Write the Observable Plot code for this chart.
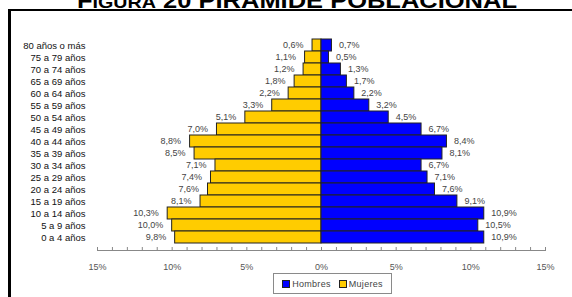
<!DOCTYPE html>
<html>
<head>
<meta charset="utf-8">
<script src="https://cdn.jsdelivr.net/npm/d3@7"></script>
<script src="https://cdn.jsdelivr.net/npm/@observablehq/plot@0.6"></script>
<style>
  html, body { margin: 0; padding: 0; background: #fff; }
  #wrap { position: relative; width: 572px; height: 297px; overflow: hidden; font-family: "Liberation Sans", Arial, sans-serif; }
  #frame { position: absolute; left: 8px; top: 9px; width: 700px; height: 400px; border-left: 3px solid #000; border-top: 2px solid #000; box-sizing: border-box; }
  #title { position: absolute; left: 0; top: 0; }
  #chart { position: absolute; left: 0; top: 0; }
  #legend { position: absolute; left: 273px; top: 273px; width: 119px; height: 21px; border: 1px solid #8a8a8a; box-sizing: border-box; background: #fff;
    font-size: 9px; color: #444; display: flex; align-items: center; justify-content: center; gap: 8px; letter-spacing: 0.3px; }
  .sw { display: inline-block; width: 6px; height: 6px; border: 1px solid #222; margin-right: 2px; vertical-align: -1px; }
</style>
</head>
<body>
<div id="wrap">
  <div id="frame"></div>
  <svg id="title" width="572" height="20">
    <text x="297" y="8" text-anchor="middle" font-family="Liberation Sans, Arial, sans-serif" font-weight="bold" font-size="22" textLength="440" lengthAdjust="spacingAndGlyphs">F<tspan font-size="17">IGURA</tspan> 20 PIRÁMIDE POBLACIONAL</text>
  </svg>
  <div id="chart"></div>
  <div id="legend">
    <span><span class="sw" style="background:#0000FF"></span>Hombres</span>
    <span><span class="sw" style="background:#FFCC00"></span>Mujeres</span>
  </div>
</div>
<script>
const ages = ["80 años o más","75 a 79 años","70 a 74 años","65 a 69 años","60 a 64 años","55 a 59 años","50 a 54 años","45 a 49 años","40 a 44 años","35 a 39 años","30 a 34 años","25 a 29 años","20 a 24 años","15 a 19 años","10 a 14 años","5 a 9 años","0 a 4 años"];
const hombres = [0.7,0.5,1.3,1.7,2.2,3.2,4.5,6.7,8.4,8.1,6.7,7.1,7.6,9.1,10.9,10.5,10.9];
const mujeres = [0.6,1.1,1.2,1.8,2.2,3.3,5.1,7.0,8.8,8.5,7.1,7.4,7.6,8.1,10.3,10.0,9.8];
const xTickLabels = [-15,-10,-5,0,5,10,15];
const xMinorTicks = d3.range(-15,16);

const men = ages.map((a,i)=>({age:a, v:hombres[i]}));
const women = ages.map((a,i)=>({age:a, v:mujeres[i]}));
const fmt = v => v.toFixed(1).replace(".", ",") + "%";

const chart = Plot.plot({
  width: 572,
  height: 297,
  marginLeft: 97,
  marginRight: 27,
  marginTop: 31,
  marginBottom: 47,
  style: {fontFamily: "Liberation Sans, Arial, sans-serif", background: "transparent", overflow: "visible"},
  x: {domain: [-15, 15], label: null},
  y: {domain: ages, padding: 0, label: null},
  marks: [
    Plot.barX(women, {x1: 0, x2: d => -d.v, y: "age", fill: "#FFCC00", stroke: "#222", strokeWidth: 1}),
    Plot.barX(men, {x1: 0, x2: "v", y: "age", fill: "#0000FF", stroke: "#222", strokeWidth: 1}),
    Plot.text(women, {x: d => -d.v, y: "age", text: d => fmt(d.v), textAnchor: "end", dx: -9, fontSize: 9, fill: "#444"}),
    Plot.text(men, {x: "v", y: "age", text: d => fmt(d.v), textAnchor: "start", dx: 7, fontSize: 9, fill: "#444"}),
    Plot.frame({anchor: "bottom", stroke: "#888"}),
    Plot.axisX({ticks: xMinorTicks, tickSize: -3, tickFormat: () => "", stroke: "#888", label: null}),
    Plot.axisX({ticks: xTickLabels, tickSize: 0, tickPadding: 13, tickFormat: d => Math.abs(d) + "%", fontSize: 9, fill: "#555", label: null}),
    Plot.axisY({tickSize: 0, tickPadding: 12, fontSize: 9.5, fill: "#111", label: null})
  ]
});
document.getElementById("chart").appendChild(chart);
</script>
</body>
</html>
